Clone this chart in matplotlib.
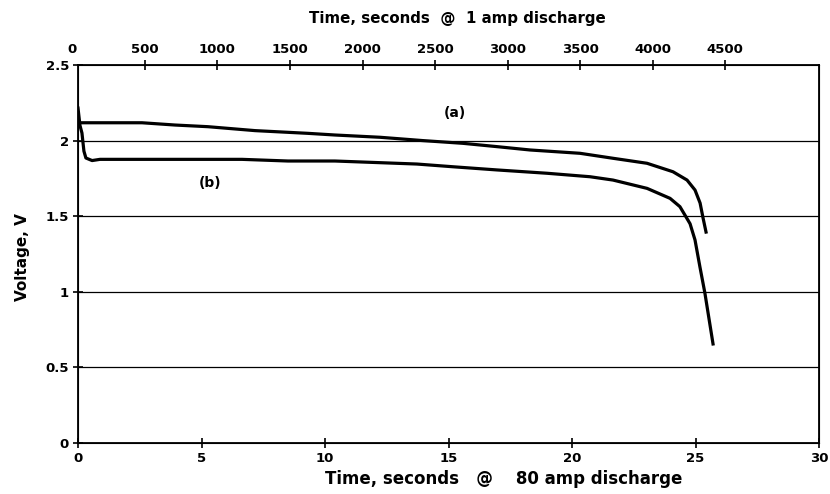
import matplotlib
matplotlib.use("Agg")
import matplotlib.pyplot as plt

plt.rcParams['font.family'] = ['DejaVu Sans']
plt.rcParams['font.weight'] = 'bold'

# Curve (a): 1 amp discharge, time on top axis (s)
t_a = [52, 479, 707, 934, 1259, 1624, 1810, 2121, 2417, 2693, 2928, 3155, 3500,
       3728, 3962, 4141, 4238, 4293, 4328, 4348, 4369]
v_a = [2.118, 2.118, 2.103, 2.092, 2.066, 2.048, 2.037, 2.022, 2.0, 1.982, 1.96, 1.938, 1.916,
       1.883, 1.85, 1.794, 1.739, 1.673, 1.587, 1.49, 1.395]

# Curve (b): 80 amp discharge, time on bottom axis (s)
t_b = [0.0, 0.08, 0.16, 0.24, 0.32, 0.57, 0.89, 4.53, 6.64, 8.50, 10.40, 13.72, 15.18, 16.96,
       18.99, 20.73, 21.66, 23.04, 23.97, 24.37, 24.61, 24.78, 24.98, 25.18, 25.38, 25.71]
v_b = [2.215, 2.1, 2.05, 1.93, 1.885, 1.868, 1.876, 1.876, 1.876, 1.865, 1.865, 1.845, 1.827,
       1.806, 1.784, 1.761, 1.739, 1.684, 1.618, 1.563, 1.497, 1.45, 1.343, 1.164, 0.992, 0.655]

bottom_ticks = [0, 5, 10, 15, 20, 25, 30]
top_ticks = [500, 1000, 1500, 2000, 2500, 3000, 3500, 4000, 4500]
y_ticks = [0, 0.5, 1, 1.5, 2, 2.5]

fig = plt.figure(figsize=(8.30, 4.94), dpi=100)
ax = fig.add_axes([78/830, 1 - 443/494, (819-78)/830, (443-65)/494])
ax.set_xlim(0, 30)
ax.set_ylim(0, 2.5)
ax.set_xticks(bottom_ticks)
ax.set_yticks(y_ticks)
ax.set_yticklabels(['0', '0.5', '1', '1.5', '2', '2.5'])
for y in [0.5, 1, 1.5, 2]:
    ax.axhline(y, color='black', lw=0.9, zorder=1)
for s in ax.spines.values():
    s.set_linewidth(1.3)
ax.tick_params(direction='inout', length=7, width=1.2, labelsize=9.5, pad=3)
ax.plot(t_b, v_b, color='black', lw=2.3, zorder=3, solid_joinstyle='round')

ax2 = ax.twiny()
ax2.set_xlim(38, 5148)
ax2.set_xticks(top_ticks)
ax2.tick_params(direction='inout', length=7, width=1.2, labelsize=9.5, pad=3)
ax2.annotate('0', xy=(0, 1.0), xycoords=ax2.get_xaxis_transform(), xytext=(0, 6.5),
             textcoords='offset points', ha='center', va='bottom',
             fontsize=9.5, fontweight='bold', annotation_clip=False)
ax2.plot(t_a, v_a, color='black', lw=2.3, zorder=3, solid_joinstyle='round')

ax.text(15.26, 2.18, '(a)', fontsize=10, fontweight='bold', ha='center', va='center')
ax.text(5.34, 1.72, '(b)', fontsize=10, fontweight='bold', ha='center', va='center')

fig.text(457/830, 1 - 18/494, 'Time, seconds  @  1 amp discharge', ha='center', va='center',
         fontsize=10.8, fontweight='bold')
fig.text(504/830, 1 - 479/494, 'Time, seconds   @    80 amp discharge', ha='center', va='center',
         fontsize=12, fontweight='bold')
fig.text(22/830, 1 - 257/494, 'Voltage, V', rotation=90, ha='center', va='center',
         fontsize=11, fontweight='bold')

fig.savefig('out.png', dpi=100)
